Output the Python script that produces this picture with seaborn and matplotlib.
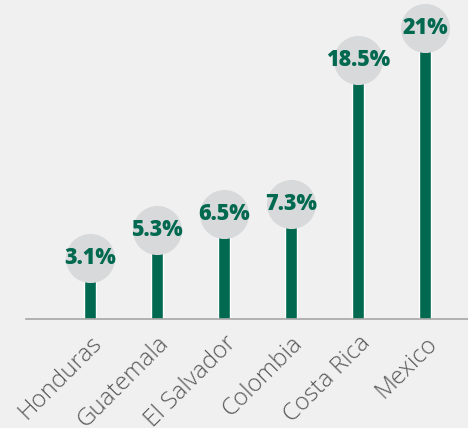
import matplotlib
matplotlib.use("Agg")
import matplotlib.pyplot as plt
import matplotlib.transforms as mtransforms
import seaborn as sns
import pandas as pd

countries = ["Honduras", "Guatemala", "El Salvador", "Colombia", "Costa Rica", "Mexico"]
shares = [3.1, 5.3, 6.5, 7.3, 18.5, 21]
labels = ["3.1%", "5.3%", "6.5%", "7.3%", "18.5%", "21%"]

green = "#006950"
bubble = "#d8d9da"
bg = "#f0f0f0"

sns.set_theme(style="white")
plt.rcParams["font.family"] = ["Open Sans", "DejaVu Sans"]

df = pd.DataFrame({"country": countries, "share": shares})

fig = plt.figure(figsize=(4.68, 4.28), dpi=100, facecolor=bg)
ax = fig.add_axes([26 / 468, (428 - 319) / 428, 1 - 26 / 468, 319 / 428])
ax.set_facecolor(bg)

sns.barplot(data=df, x="country", y="share", color=green, width=0.19,
            saturation=1, ax=ax, zorder=2)

# grey bubbles sitting just above each bar, with the value inside
lift = mtransforms.offset_copy(ax.transData, fig=fig, x=0, y=21, units="dots")
xs = list(range(len(countries)))
ax.scatter(xs, shares, s=1250, color=bubble, transform=lift, zorder=3,
           linewidths=0, clip_on=False)
for x, v, t in zip(xs, shares, labels):
    ax.text(x, v, t, transform=lift, ha="center", va="center", color=green,
            fontsize=15.5, fontweight="heavy", zorder=4)

ax.set_xlim(-0.955, 5.642)
ax.set_ylim(0, 24.81)
ax.set_xlabel("")
ax.set_ylabel("")
ax.set_yticks([])
for s in ["top", "right", "left"]:
    ax.spines[s].set_visible(False)
ax.spines["bottom"].set_color("#a6a6a6")
ax.spines["bottom"].set_linewidth(1.2)
ax.tick_params(axis="x", length=0, pad=9)
for lab in ax.get_xticklabels():
    lab.set_rotation(45)
    lab.set_ha("right")
    lab.set_rotation_mode("anchor")
    lab.set_fontsize(17.5)
    lab.set_color("#595959")
    lab.set_fontweight("light")

fig.savefig("out.png", dpi=100, facecolor=bg)
